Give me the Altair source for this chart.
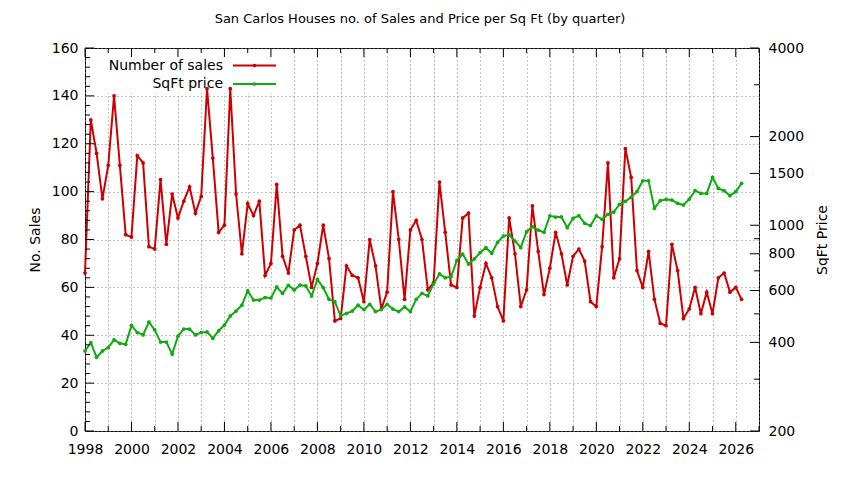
import altair as alt
import pandas as pd

# Quarterly data, 1998 Q1 .. 2026 Q2
start_year = 1998
sales = [66, 130, 116, 97,
         111, 140, 111, 82,
         81, 115, 112, 77,
         76, 105, 78, 99,
         89, 96, 102, 91,
         98, 143, 114, 83,
         86, 143, 99, 74,
         95, 90, 96, 65,
         70, 103, 73, 66,
         84, 86, 73, 60,
         70, 86, 72, 46,
         47, 69, 65, 64,
         54, 80, 69, 51,
         58, 100, 80, 55,
         84, 88, 80, 59,
         62, 104, 83, 61,
         60, 89, 91, 48,
         60, 70, 64, 52,
         46, 89, 74, 52,
         59, 94, 75, 57,
         68, 83, 74, 61,
         73, 76, 71, 54,
         52, 77, 112, 64,
         72, 118, 106, 67,
         60, 75, 55, 45,
         44, 78, 67, 47,
         51, 60, 49, 58,
         49, 64, 66, 58,
         60, 55]
sqft = [374, 399, 356, 374,
        384, 408, 397, 394,
        457, 432, 424, 469,
        441, 401, 401, 365,
        420, 444, 444, 424,
        432, 434, 413, 438,
        458, 492, 511, 535,
        598, 557, 557, 568,
        566, 617, 587, 625,
        603, 626, 622, 575,
        655, 614, 560, 550,
        492, 502, 511, 535,
        517, 539, 509, 517,
        539, 519, 509, 528,
        509, 560, 587, 575,
        632, 683, 663, 669,
        759, 798, 738, 768,
        807, 839, 803, 875,
        919, 926, 884, 839,
        951, 989, 963, 946,
        1076, 1066, 1067, 981,
        1056, 1078, 1015, 997,
        1075, 1047, 1089, 1109,
        1178, 1206, 1244, 1301,
        1415, 1415, 1141, 1212,
        1224, 1218, 1187, 1171,
        1227, 1310, 1283, 1283,
        1455, 1334, 1310, 1260,
        1300, 1388]

title_text = "San Carlos Houses no. of Sales and Price per Sq Ft (by quarter)"
years_axis = list(range(1998, 2028))
left_ticks = list(range(0, 161, 20))
left_minor = [v for v in range(0, 161, 4) if v % 20 != 0]
right_ticks = [200, 400, 600, 800, 1000, 1500, 2000, 4000]
right_minor = [300, 500, 700, 900, 3000]

RED = "#cc0000"
GREEN = "#11aa11"
FONT = "DejaVu Sans"
W, H = 674, 383

t = [start_year + i / 4 for i in range(len(sales))]
df = pd.DataFrame({"t": t, "sales": sales, "sqft": sqft})

xscale = alt.Scale(domain=[1998, 2027], nice=False, zero=False)
yl_scale = alt.Scale(domain=[0, 160], nice=False)
yr_scale = alt.Scale(type="log", domain=[200, 4000], nice=False)

xaxis = alt.Axis(values=years_axis, title=None, grid=True,
                 labelExpr="datum.value % 2 == 0 ? format(datum.value, 'd') : ''",
                 labelOverlap=False, labelFlush=False, labelPadding=11)

one = pd.DataFrame({"k": [0]})

# opaque key background (hides grid behind the key)
key_box = alt.Chart(one).mark_rect(color="white", opacity=1).encode(
    x=alt.value(2), x2=alt.value(198), y=alt.value(4), y2=alt.value(45))

red = alt.Chart(df).mark_line(
    color=RED, strokeWidth=2,
    point=alt.OverlayMarkDef(color=RED, filled=True, size=14)
).encode(
    x=alt.X("t:Q", scale=xscale, axis=xaxis),
    y=alt.Y("sales:Q", scale=yl_scale,
            axis=alt.Axis(values=left_ticks, title="No. Sales", grid=True,
                          labelPadding=7, titleX=-50, titleY=H / 2,
                          titleAngle=270, titleAlign="center",
                          titleBaseline="middle")),
)

green = alt.Chart(df).mark_line(
    color=GREEN, strokeWidth=2,
    point=alt.OverlayMarkDef(color=GREEN, filled=True, size=14)
).encode(
    x=alt.X("t:Q", scale=xscale, axis=xaxis),
    y=alt.Y("sqft:Q", scale=yr_scale,
            axis=alt.Axis(orient="right", values=right_ticks, format="d",
                          title="SqFt Price", grid=False, labelPadding=9,
                          titleX=63, titleY=H / 2, titleAngle=270,
                          titleAlign="center", titleBaseline="middle")),
)

def yticks(vals, scale, x0, x1):
    return alt.Chart(pd.DataFrame({"v": vals})).mark_rule(color="black", strokeWidth=1).encode(
        y=alt.Y("v:Q", scale=scale, axis=None),
        x=alt.value(x0), x2=alt.value(x1))

def xticks(vals, y0, y1):
    return alt.Chart(pd.DataFrame({"v": vals})).mark_rule(color="black", strokeWidth=1).encode(
        x=alt.X("v:Q", scale=xscale, axis=xaxis),
        y=alt.value(y0), y2=alt.value(y1))

major_years = [y for y in years_axis if y % 2 == 0]
minor_years = [y for y in years_axis if y % 2 == 1]

tick_layers = [
    yticks(left_ticks, yl_scale, 0, 9),
    yticks(left_minor, yl_scale, 0, 5),
    yticks(right_ticks, yr_scale, W, W - 9),
    yticks(right_minor, yr_scale, W, W - 5),
    xticks(major_years, H, H - 9),
    xticks(minor_years, H, H - 5),
    xticks(major_years, 0, 9),
    xticks(minor_years, 0, 5),
]

legend_items = [("Number of sales", RED, 17.5), ("SqFt price", GREEN, 36)]
text_layers = [alt.Chart(one).mark_text(
    text=title_text, font=FONT, fontSize=13, align="center", baseline="middle", color="black"
).encode(x=alt.value(W / 2 - 2), y=alt.value(-29))]
for label, col, ly in legend_items:
    text_layers.append(alt.Chart(one).mark_text(
        text=label, font=FONT, fontSize=14, align="right", baseline="middle", color="black"
    ).encode(x=alt.value(138), y=alt.value(ly)))
    text_layers.append(alt.Chart(one).mark_rule(color=col, strokeWidth=2).encode(
        x=alt.value(148), x2=alt.value(191), y=alt.value(ly)))
    text_layers.append(alt.Chart(one).mark_point(color=col, filled=True, size=14, opacity=1).encode(
        x=alt.value(169.5), y=alt.value(ly)))

chart = alt.layer(key_box, red, green, *tick_layers, *text_layers).resolve_scale(
    y="independent"
).properties(
    width=W, height=H,
    background="white",
    autosize=alt.AutoSizeParams(type="none"),
    padding={"left": 77, "top": 40, "right": 70, "bottom": 30},
).configure_view(
    stroke="black", strokeWidth=1
).configure_axis(
    labelFont=FONT, labelFontSize=14, labelColor="black",
    titleFont=FONT, titleFontSize=14, titleFontWeight="normal", titleColor="black",
    domain=False, ticks=False,
    gridColor="#888888", gridDash=[1, 3], gridWidth=1, gridOpacity=1,
)

chart.save("out.html", embed_options={"renderer": "svg", "actions": False})
